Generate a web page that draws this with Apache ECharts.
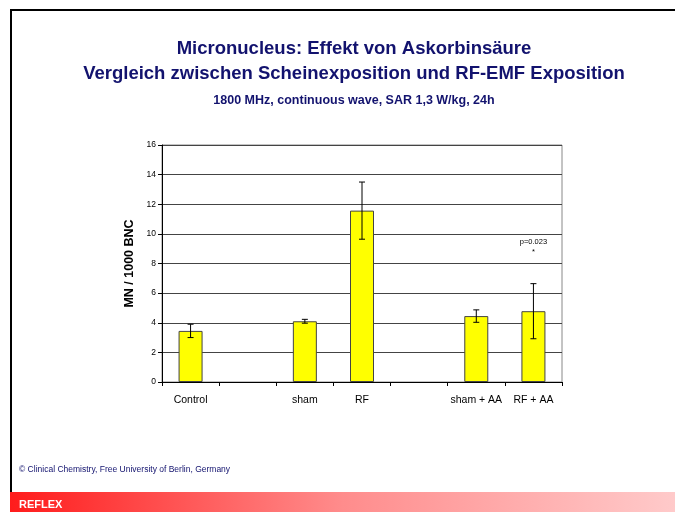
<!DOCTYPE html>
<html>
<head>
<meta charset="utf-8">
<script src="https://cdn.jsdelivr.net/npm/echarts@6/dist/echarts.min.js"></script>
<style>
  html, body { margin: 0; padding: 0; background: #fff; }
  #chart { width: 675px; height: 512px; }
</style>
</head>
<body>
<div id="chart"></div>
<script>
// data
var categories = ['Control', '', 'sham', 'RF', '', 'sham + AA', 'RF + AA'];
var means = [3.45, null, 4.1, 11.57, null, 4.45, 4.78];
var errs = [0.45, null, 0.13, 1.93, null, 0.42, 1.86];
var yTicks = [0, 16, 2];  // min, max, step
var noteCat = 'RF + AA';
var noteVal = 8.1;

var navy = '#12126e';

var errData = [];
for (var i = 0; i < categories.length; i++) {
  if (means[i] != null) errData.push([i, means[i] - errs[i], means[i] + errs[i]]);
}

var chart = echarts.init(document.getElementById('chart'));
var option = {
  animation: false,
  backgroundColor: '#fff',
  textStyle: { fontFamily: 'Liberation Sans, Arial, sans-serif' },
  title: [
    {
      text: 'Micronucleus: Effekt von Askorbinsäure\nVergleich zwischen Scheinexposition und RF-EMF Exposition',
      left: 349, top: 31, textAlign: 'center',
      textStyle: { fontSize: 18.5, fontWeight: 'bold', color: navy, lineHeight: 25 }
    },
    {
      text: '1800 MHz, continuous wave, SAR 1,3 W/kg, 24h',
      left: 349, top: 89, textAlign: 'center',
      textStyle: { fontSize: 12.5, fontWeight: 'bold', color: navy }
    },
    {
      text: '© Clinical Chemistry, Free University of Berlin, Germany',
      left: 14, top: 460,
      textStyle: { fontSize: 8.5, fontWeight: 'normal', color: navy }
    },
    {
      text: 'REFLEX',
      left: 14, top: 494,
      textStyle: { fontSize: 11, fontWeight: 'bold', color: '#fff' }
    }
  ],
  graphic: [
    { type: 'rect', left: 10, top: 492, z: -1, shape: { width: 665, height: 20 },
      style: { fill: new echarts.graphic.LinearGradient(0, 0, 1, 0, [
        { offset: 0, color: '#ff1c1c' }, { offset: 0.5, color: '#ff8c8c' }, { offset: 1, color: '#ffcaca' }]) } },
    { type: 'line', shape: { x1: 10, y1: 10, x2: 675, y2: 10 }, style: { stroke: '#000', lineWidth: 2 } },
    { type: 'line', shape: { x1: 11, y1: 9, x2: 11, y2: 492 }, style: { stroke: '#000', lineWidth: 2 } }
  ],
  grid: {
    left: 162, right: 113, top: 145, bottom: 130,
    show: true, borderColor: '#888', borderWidth: 1
  },
  xAxis: {
    type: 'category',
    data: categories,
    axisLine: { lineStyle: { color: '#000', width: 1 } },
    axisTick: { show: true, alignWithLabel: false, length: 4, lineStyle: { color: '#000' } },
    axisLabel: { fontSize: 10.5, color: '#000', margin: 13, interval: 0 }
  },
  yAxis: {
    type: 'value',
    min: yTicks[0], max: yTicks[1], interval: yTicks[2],
    name: 'MN / 1000 BNC',
    nameLocation: 'middle',
    nameGap: 23,
    nameTextStyle: { fontSize: 12.5, fontWeight: 'bold', color: '#000' },
    axisLine: { show: true, lineStyle: { color: '#000', width: 1 } },
    axisTick: { show: true, length: 4, lineStyle: { color: '#000' } },
    axisLabel: { fontSize: 8.5, color: '#000', margin: 6 },
    splitLine: { show: true, lineStyle: { color: '#444', width: 1 } }
  },
  series: [
    {
      type: 'bar',
      data: means,
      barWidth: '42%',
      itemStyle: { color: '#ffff00', borderColor: '#444', borderWidth: 1 },
      markPoint: {
        symbol: 'circle', symbolSize: 0,
        data: [{ coord: [noteCat, noteVal] }],
        label: {
          show: true, position: 'top', formatter: 'p=0.023\n*',
          fontSize: 7.5, color: '#000', lineHeight: 10
        }
      }
    },
    {
      type: 'custom',
      data: errData,
      z: 5,
      renderItem: function (params, api) {
        var x = api.value(0);
        var lo = api.coord([x, api.value(1)]);
        var hi = api.coord([x, api.value(2)]);
        var cap = 3;
        var st = { stroke: '#000', lineWidth: 1 };
        return {
          type: 'group',
          children: [
            { type: 'line', shape: { x1: lo[0], y1: lo[1], x2: hi[0], y2: hi[1] }, style: st },
            { type: 'line', shape: { x1: lo[0] - cap, y1: lo[1], x2: lo[0] + cap, y2: lo[1] }, style: st },
            { type: 'line', shape: { x1: hi[0] - cap, y1: hi[1], x2: hi[0] + cap, y2: hi[1] }, style: st }
          ]
        };
      }
    }
  ]
};
chart.setOption(option);
</script>
</body>
</html>
